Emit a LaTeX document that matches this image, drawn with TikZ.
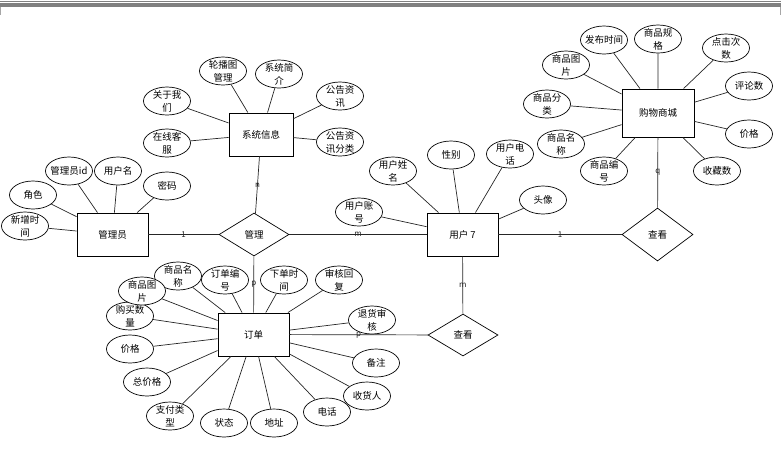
\documentclass[tikz,border=0pt]{standalone}
\usepackage{fontspec}
\newfontfamily\cjk{Noto Sans CJK SC}
\usetikzlibrary{shapes.geometric,positioning}

\begin{document}
\begin{tikzpicture}[x=1pt,y=-1pt,
    every node/.style={font=\cjk\fontsize{9.5}{13}\selectfont,align=center},
    ent/.style={draw,line width=0.9pt,fill=white,minimum width=71pt,minimum height=43pt,inner sep=0pt},
    attr/.style={draw,ellipse,line width=0.7pt,fill=white,minimum width=47pt,minimum height=28pt,
                 inner xsep=-4pt,inner ysep=-3pt},
    rel/.style={draw,diamond,line width=0.7pt,fill=white,minimum width=70pt,minimum height=43pt,inner sep=0pt},
    card/.style={font=\cjk\fontsize{8}{9}\selectfont,inner sep=0pt},
    conn/.style={line width=0.7pt,black!85}
]
\useasboundingbox (0,0) rectangle (781,451);
% window edge
\fill[black!50] (0,0.8) rectangle (781,1.8);
\fill[black!50] (0,3) rectangle (781,6.7);
\draw[black!35] (0.5,6.7) -- (0.5,15) (780.5,6.7) -- (780.5,15);

% entities and relations
\node[ent,minimum width=64pt] (sys) at (261,134.5) {系统信息};
\node[ent] (admin) at (112.5,234.5) {管理员};
\node[rel] (mgr) at (254,234.5) {管理};
\node[ent] (user) at (462.5,234.5) {用户 7};
\node[rel,minimum width=71pt,minimum height=53pt] (viewR) at (657.5,234.5) {查看};
\node[ent,minimum width=72pt,minimum height=48pt] (mall) at (658,113) {购物商城};
\node[ent] (order) at (253.5,334.5) {订单};
\node[rel,minimum height=42pt] (viewO) at (463,335) {查看};

% 系统信息
\node[attr] (sysBanner) at (223,71) {轮播图\\管理};
\node[attr] (sysIntro) at (279,74) {系统简\\介};
\node[attr] (sysAbout) at (167,101) {关于我\\们};
\node[attr] (sysNews) at (340,96) {公告资\\讯};
\node[attr] (sysService) at (167,143) {在线客\\服};
\node[attr] (sysNewsCat) at (340,142) {公告资\\讯分类};

% 管理员
\node[attr] (adminId) at (69,171) {管理员id};
\node[attr] (adminName) at (118,171) {用户名};
\node[attr] (adminPwd) at (167,186) {密码};
\node[attr] (adminRole) at (33,195) {角色};
\node[attr] (adminTime) at (25,226) {新增时\\间};

% 用户
\node[attr] (userAcct) at (359,212) {用户账\\号};
\node[attr] (userName) at (393,171) {用户姓\\名};
\node[attr] (userSex) at (451,155) {性别};
\node[attr] (userTel) at (510,154) {用户电\\话};
\node[attr] (userPhoto) at (543,200) {头像};

% 购物商城
\node[attr] (mallTime) at (604,40) {发布时间};
\node[attr] (mallSpec) at (658,39) {商品规\\格};
\node[attr] (mallClicks) at (726,48) {点击次\\数};
\node[attr] (mallPic) at (566,65) {商品图\\片};
\node[attr] (mallCmt) at (749,86) {评论数};
\node[attr] (mallCat) at (547,104) {商品分\\类};
\node[attr] (mallPrice) at (749,134) {价格};
\node[attr] (mallName) at (561,144) {商品名\\称};
\node[attr] (mallNo) at (604,171) {商品编\\号};
\node[attr] (mallFav) at (717,171) {收藏数};

% 订单
\node[attr] (ordQty) at (130,316) {购买数\\量};
\node[attr] (ordName) at (178,276) {商品名\\称};
\node[attr] (ordPic) at (142,291) {商品图\\片};
\node[attr] (ordNo) at (225,280) {订单编\\号};
\node[attr] (ordTime) at (284,280) {下单时\\间};
\node[attr] (ordReply) at (339,280) {审核回\\复};
\node[attr] (ordReturn) at (372,320) {退货审\\核};
\node[attr] (ordPrice) at (130,349) {价格};
\node[attr] (ordNote) at (376,363) {备注};
\node[attr] (ordTotal) at (147,382) {总价格};
\node[attr] (ordRecv) at (367,396) {收货人};
\node[attr] (ordPay) at (170,416) {支付类\\型};
\node[attr] (ordState) at (224,423) {状态};
\node[attr] (ordAddr) at (274,423) {地址};
\node[attr] (ordTel) at (327,412) {电话};

% relations
\draw[conn] (sys) -- node[card]{n} (mgr);
\draw[conn] (admin) -- node[card]{1} (mgr);
\draw[conn] (mgr) -- node[card]{m} (user);
\draw[conn] (mgr) -- node[card]{p} (order);
\draw[conn] (user) -- node[card]{1} (viewR);
\draw[conn] (mall) -- node[card]{q} (viewR);
\draw[conn] (user) -- node[card]{m} (viewO);
\draw[conn] (order) -- node[card]{p} (viewO);

% attributes
\draw[conn] (sysBanner) -- (sys) (sysIntro) -- (sys) (sysAbout) -- (sys);
\draw[conn] (sysNews) -- (sys) (sysService) -- (sys) (sysNewsCat) -- (sys);
\draw[conn] (adminId) -- (admin) (adminName) -- (admin) (adminPwd) -- (admin);
\draw[conn] (adminRole) -- (admin) (adminTime) -- (admin);
\draw[conn] (userAcct) -- (user) (userName) -- (user) (userSex) -- (user);
\draw[conn] (userTel) -- (user) (userPhoto) -- (user);
\draw[conn] (mallTime) -- (mall) (mallSpec) -- (mall) (mallClicks) -- (mall) (mallPic) -- (mall);
\draw[conn] (mallCmt) -- (mall) (mallCat) -- (mall) (mallPrice) -- (mall);
\draw[conn] (mallName) -- (mall) (mallNo) -- (mall) (mallFav) -- (mall);
\draw[conn] (ordQty) -- (order) (ordName) -- (order) (ordPic) -- (order) (ordNo) -- (order);
\draw[conn] (ordTime) -- (order) (ordReply) -- (order) (ordReturn) -- (order) (ordPrice) -- (order);
\draw[conn] (ordNote) -- (order) (ordTotal) -- (order) (ordRecv) -- (order) (ordPay) -- (order);
\draw[conn] (ordState) -- (order) (ordAddr) -- (order) (ordTel) -- (order);
\end{tikzpicture}
\end{document}
